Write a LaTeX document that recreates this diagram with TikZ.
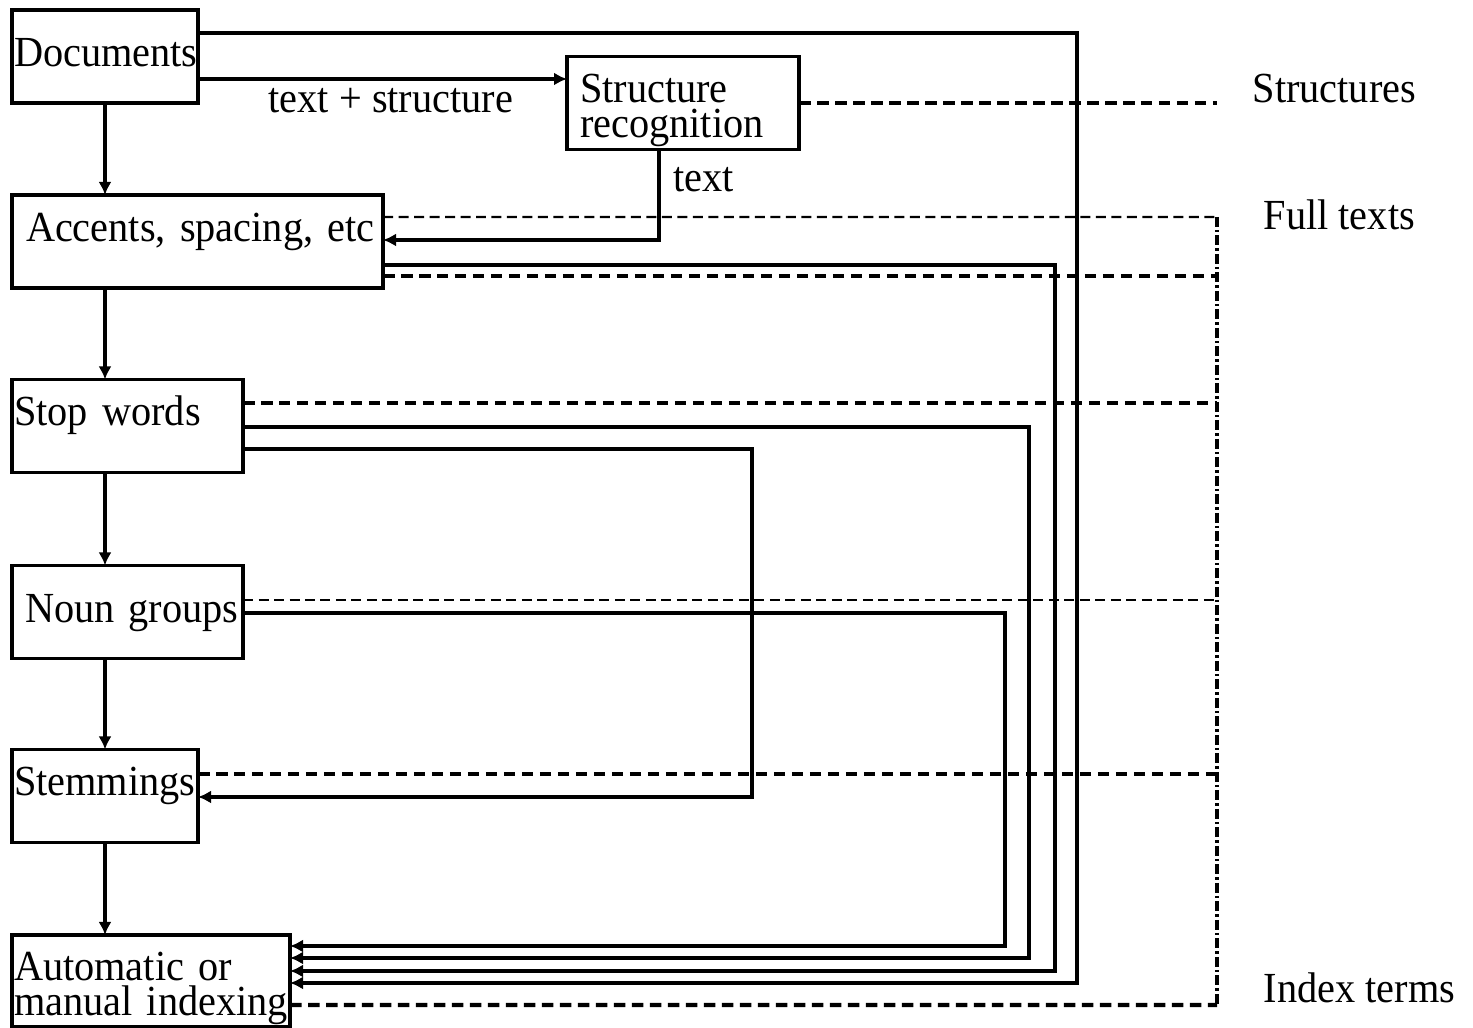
\documentclass[tikz,border=0pt]{standalone}
\usepackage{fontspec}
\setmainfont{Liberation Serif}[FakeStretch=0.94]
\usetikzlibrary{arrows.meta, positioning, calc}

\begin{document}
\begin{tikzpicture}[
    x=0.1mm, y=-0.1mm,
    every node/.style={font=\fontsize{12.2}{9.7}\selectfont},
    box/.style={rectangle, draw, line width=1pt, align=left, inner ysep=0pt, outer sep=0pt, inner xsep=0.2mm, text height=3mm, text depth=3mm, minimum height=9.3mm},
    lbl/.style={anchor=base west, inner sep=0pt},
    arrow/.style={-{Latex[length=1.3mm, width=1.3mm]}, line width=1.1pt},
    dashthick/.style={line width=1.2pt, dash pattern=on 1.15mm off 0.65mm},
    dashthin/.style={line width=0.6pt, dash pattern=on 1mm off 0.55mm},
    dashdot/.style={line width=1pt, dash pattern=on 1mm off 0.3mm on 0.25mm off 0.3mm}
]
    \useasboundingbox (0,0) rectangle (1473,1028);

    % Processing boxes
    \node[box, minimum width=18.6mm, text width=18.2mm, text depth=0.9mm] (docs) at (105,56.5) {Documents};
    \node[box, minimum width=23.2mm, text width=20.6mm, inner xsep=1.3mm] (struct) at (683,103) {Structure\\recognition};
    \node[box, minimum width=37.1mm, text width=34.3mm, inner xsep=1.4mm] (accents) at (197.5,241.5) {\mbox{Accents, spacing, etc}};
    \node[box, minimum width=23.1mm, text width=22.7mm] (stop) at (127.5,426) {Stop words};
    \node[box, minimum width=23.1mm, text width=20.5mm, inner xsep=1.3mm, text depth=0.8mm] (noun) at (127.5,612) {\mbox{Noun groups}};
    \node[box, minimum width=18.6mm, text width=18.2mm] (stem) at (105,796) {Stemmings};
    \node[box, minimum width=27.8mm, text width=27.4mm, minimum height=9.2mm] (auto) at (151,981) {Automatic or\\manual indexing};

    % Output labels
    \node[lbl] (lstruct) at (1252,103) {Structures};
    \node[lbl] (lfull) at (1263,230) {Full texts};
    \node[lbl] (lindex) at (1263,1003) {Index terms};

    % Bends of the side routes
    \coordinate (cStruct) at (659,240);
    \coordinate (cStem) at (752,797);
    \coordinate (cNoun) at (1005,946);
    \coordinate (cStop) at (1029,958);
    \coordinate (cAcc) at (1055,971);
    \coordinate (cDoc) at (1077,983);
    \coordinate (rim) at (1217,0);
    \coordinate (fullTop) at (1217,217);
    \coordinate (idxEnd) at (1217,1005);

    % Main chain
    \draw[arrow] (docs.south) -- (docs.south |- accents.north);
    \draw[arrow] (accents.south -| docs) -- (stop.north -| docs);
    \draw[arrow] (stop.south -| docs) -- (noun.north -| docs);
    \draw[arrow] (noun.south -| docs) -- (stem.north);
    \draw[arrow] (stem.south) -- (auto.north -| stem);

    % Structure recognition
    \draw[arrow] ([yshift=-2.25mm]docs.east) -- ([yshift=2.4mm]struct.west);
    \node[lbl] (ltextstruct) at (268,113) {text + structure};
    \draw[arrow] (struct.south -| cStruct) -- (cStruct) -- (accents.east |- cStruct);
    \node[lbl] (ltext) at (673,192) {text};

    % Routes to the indexing
    \draw[arrow] ([yshift=2.35mm]docs.east) -| (cDoc) -- (auto.east |- cDoc);
    \draw[arrow] ([yshift=-2.35mm]accents.east) -| (cAcc) -- (auto.east |- cAcc);
    \draw[arrow] ([yshift=-0.1mm]stop.east) -| (cStop) -- (auto.east |- cStop);
    \draw[arrow] ([yshift=-0.1mm]noun.east) -| (cNoun) -- (auto.east |- cNoun);
    \draw[arrow] ([yshift=-2.3mm]stop.east) -| (cStem) -- (stem.east |- cStem);

    % Outputs
    \draw[dashthick] (struct.east) -- (struct.east -| rim);
    \draw[dashthin] ([yshift=2.45mm]accents.east) -- (fullTop);
    \draw[dashthick] ([yshift=-3.45mm]accents.east) -- ([yshift=-3.45mm]accents.east -| rim);
    \draw[dashthick] ([yshift=2.3mm]stop.east) -- ([yshift=2.3mm]stop.east -| rim);
    \draw[dashthin] ([yshift=1.2mm]noun.east) -- ([yshift=1.2mm]noun.east -| rim);
    \draw[dashthick] ([yshift=2.2mm]stem.east) -- ([yshift=2.2mm]stem.east -| rim);
    \draw[dashthick] ([yshift=-2.4mm]auto.east) -- (idxEnd);
    \draw[dashdot] (fullTop) -- (idxEnd);
\end{tikzpicture}
\end{document}
